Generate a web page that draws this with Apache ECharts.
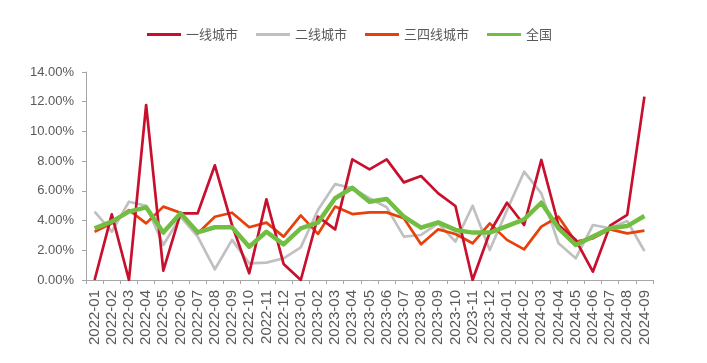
<!DOCTYPE html>
<html>
<head>
<meta charset="utf-8">
<script src="https://cdn.jsdelivr.net/npm/echarts@6/dist/echarts.min.js"></script>
<style>html,body{margin:0;padding:0;background:#fff;}#c{width:707px;height:363px;}</style>
</head>
<body>
<div id="c"></div>
<script>
const categories = ['2022-01','2022-02','2022-03','2022-04','2022-05','2022-06','2022-07','2022-08','2022-09','2022-10','2022-11','2022-12',
'2023-01','2023-02','2023-03','2023-04','2023-05','2023-06','2023-07','2023-08','2023-09','2023-10','2023-11','2023-12',
'2024-01','2024-02','2024-03','2024-04','2024-05','2024-06','2024-07','2024-08','2024-09'];
const tier1 = [0,4.42,0,11.78,0.63,4.49,4.49,7.72,3.7,0.45,5.43,1.08,0,4.26,3.41,8.12,7.45,8.12,6.57,7.0,5.83,4.98,0,3.2,5.2,3.7,8.08,3.7,2.7,0.56,3.66,4.38,12.34];
const tier2 = [4.6,3.25,5.27,5.0,2.36,4.26,2.92,0.72,2.7,1.12,1.17,1.46,2.2,4.71,6.46,6.17,5.5,4.9,2.92,3.03,3.81,2.58,5.0,2.02,4.7,7.29,5.83,2.47,1.46,3.7,3.48,3.97,1.95];
const tier34 = [3.25,3.81,4.71,3.81,4.94,4.53,3.14,4.26,4.53,3.55,3.86,2.92,4.35,3.1,4.94,4.44,4.55,4.55,4.15,2.4,3.41,3.1,2.47,3.81,2.7,2.06,3.59,4.26,2.58,2.8,3.41,3.14,3.32];
const national = [3.48,3.93,4.6,4.89,3.19,4.49,3.21,3.55,3.55,2.24,3.25,2.4,3.48,3.86,5.5,6.21,5.27,5.45,4.26,3.52,3.88,3.37,3.19,3.19,3.63,4.08,5.2,3.48,2.36,2.92,3.48,3.63,4.31];
const seriesNames = ['一线城市','二线城市','三四线城市','全国'];
const yTicks = {min:0, max:14, interval:2};

const colors = ['#C8102E','#C0C0C0','#E8400A','#72BE44'];
const widths = [2.7,2.7,2.7,4.5];
const datas = [tier1, tier2, tier34, national];

const chart = echarts.init(document.getElementById('c'), null, {renderer:'canvas'});
chart.setOption({
  animation:false,
  backgroundColor:'#fff',
  color: colors,
  legend:{
    left:142, top:23, itemWidth:34, itemHeight:3, itemGap:18, icon:'rect',
    textStyle:{fontFamily:'"Noto Sans CJK SC"', fontSize:13, color:'#595959'},
    data: seriesNames
  },
  grid:{left:86, right:54, top:72, bottom:83},
  xAxis:{
    type:'category', data:categories, boundaryGap:true,
    axisLine:{lineStyle:{color:'#A6A6A6', width:1}},
    axisTick:{show:true, alignWithLabel:false, interval:0, length:4, lineStyle:{color:'#A6A6A6'}},
    axisLabel:{interval:0, rotate:90, margin:10, fontFamily:'Arial, "Liberation Sans"', fontSize:15, color:'#595959'},
    splitLine:{show:false}
  },
  yAxis:{
    type:'value', min:yTicks.min, max:yTicks.max, interval:yTicks.interval,
    axisLine:{show:true, lineStyle:{color:'#A6A6A6', width:1}},
    axisTick:{show:true, length:4, lineStyle:{color:'#A6A6A6'}},
    axisLabel:{margin:12, fontFamily:'Arial, "Liberation Sans"', fontSize:13, color:'#595959', formatter:v=>v.toFixed(2)+'%'},
    splitLine:{show:false}
  },
  series: seriesNames.map((n,i)=>({
    name:n, type:'line', data:datas[i], symbol:'none', showSymbol:false,
    lineStyle:{width:widths[i], color:colors[i], join:'round'},
    z: i===3 ? 5 : (i===1 ? 2 : (i===2 ? 3 : 4))
  }))
});
</script>
</body>
</html>
